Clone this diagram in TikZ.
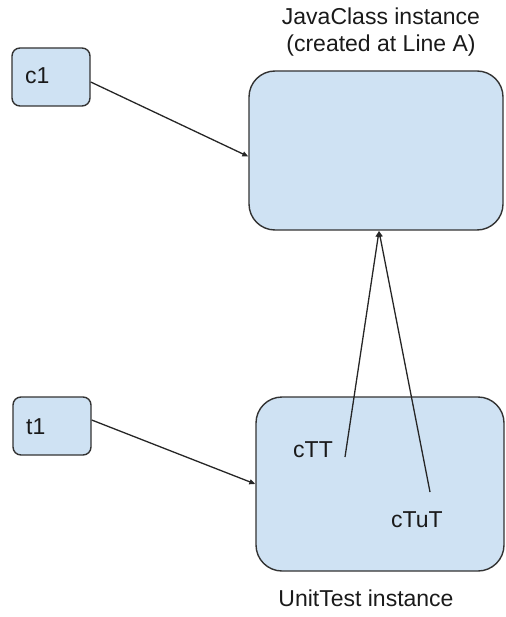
\documentclass[tikz,border=0pt]{standalone}
\usepackage{fontspec}
\setmainfont{Liberation Sans}
\usetikzlibrary{arrows.meta}
\definecolor{boxfill}{HTML}{CFE2F3}
\definecolor{boxline}{HTML}{333333}
\definecolor{txt}{HTML}{1A1A1A}
\begin{document}
\begin{tikzpicture}[x=1pt,y=-1pt,
  every node/.style={font=\fontsize{23}{27}\selectfont, text=txt},
  smallbox/.style={draw=boxline, fill=boxfill, line width=1.4pt, rounded corners=8pt, minimum width=78pt, minimum height=58pt, inner sep=0pt},
  bigbox/.style={draw=boxline, fill=boxfill, line width=1.4pt, rounded corners=26pt, inner sep=0pt},
  lbl/.style={inner sep=0pt},
  arr/.style={draw=black!85, line width=1.3pt, -{Triangle[length=6pt,width=5pt]}},
  ln/.style={draw=black!85, line width=1.3pt}]
\useasboundingbox (0,0) rectangle (505,617);
% boxes
\node[smallbox] (c1) at (51,77) {};
\node[lbl, anchor=west] (c1t) at (25,76) {c1};
\node[bigbox, minimum width=254pt, minimum height=159pt] (jc) at (376,150.5) {};
\node[lbl, align=center] (jct) at (381,32) {JavaClass instance\\(created at Line A)};
\node[smallbox] (t1) at (52,426) {};
\node[lbl, anchor=west] (t1t) at (26,427) {t1};
\node[bigbox, minimum width=248pt, minimum height=174pt] (ut) at (380,484) {};
\node[lbl] (utt) at (366,598) {UnitTest instance};
\node[lbl] (ctt) at (313,450) {cTT};
\node[lbl] (ctut) at (417,520) {cTuT};
% connector ends
\coordinate (cttend) at (345,457);
\coordinate (ctutend) at (430,492);
\coordinate (tip) at (379,231);
% arrows
\draw[arr] ([yshift=-5pt]c1.east) -- ([yshift=-6pt]jc.west);
\draw[arr] ([yshift=6pt]t1.east) -- (ut.west);
\draw[arr] (cttend) -- (tip);
\draw[arr] (ctutend) -- (tip);
\end{tikzpicture}
\end{document}
